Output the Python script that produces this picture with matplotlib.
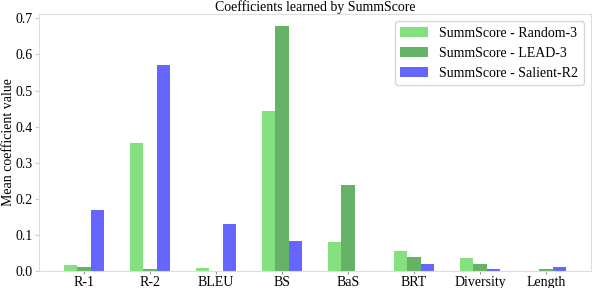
import matplotlib
matplotlib.use("Agg")
import matplotlib.pyplot as plt
import numpy as np

categories = ["R-1", "R-2", "BLEU", "BS", "BaS", "BRT", "Diversity", "Length"]
random3 = [0.017, 0.354, 0.009, 0.444, 0.080, 0.056, 0.036, 0.0]
lead3 = [0.011, 0.005, 0.0, 0.678, 0.237, 0.039, 0.020, 0.005]
salient_r2 = [0.170, 0.572, 0.131, 0.084, 0.0, 0.020, 0.006, 0.011]
series_names = ["SummScore - Random-3", "SummScore - LEAD-3", "SummScore - Salient-R2"]
colors = ["#85e080", "#66b266", "#6666ff"]

plt.rcParams['font.family'] = ['Liberation Serif', 'DejaVu Serif']

fig = plt.figure(figsize=(5.92, 2.88), dpi=100)
ax = fig.add_axes([0.066, 0.059, 0.932, 0.892])

x = np.arange(len(categories))
w = 0.2
for k, (vals, name, c) in enumerate(zip([random3, lead3, salient_r2], series_names, colors)):
    ax.bar(x + (k - 1) * w, vals, width=w, color=c, label=name)

ax.set_xticks(x)
ax.set_xticklabels(categories, fontsize=10)
ax.tick_params(axis='y', length=3, pad=1.5, labelsize=10, color='#cccccc')
ax.tick_params(axis='x', length=2.5, pad=1, labelsize=10, color='#999999')
ax.set_ylabel("Mean coefficient value", fontsize=10, labelpad=0.5)
ax.set_title("Coefficients learned by SummScore", fontsize=10, pad=2)
for s in ax.spines.values():
    s.set_color('#dddddd')
leg = ax.legend(loc='upper right', fontsize=10, frameon=True, handlelength=2.0,
                handletextpad=0.8, fancybox=True, borderaxespad=0.5)
leg.get_frame().set_edgecolor('#cccccc')
fig.savefig("out.png", dpi=100)
